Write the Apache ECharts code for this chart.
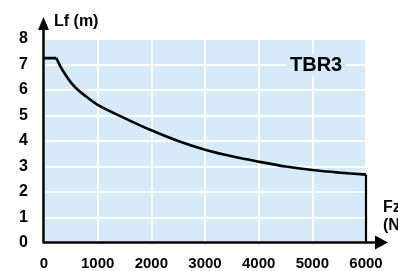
<!DOCTYPE html>
<html>
<head>
<meta charset="utf-8">
<script src="https://cdn.jsdelivr.net/npm/echarts@6/dist/echarts.min.js"></script>
<style>
html, body { margin: 0; padding: 0; background: #fff; }
#main { width: 398px; height: 271px; }
</style>
</head>
<body>
<div id="main"></div>
<script>
// force Fz (N) against max length Lf (m)
const fzValues = [0, 230, 300, 400, 500, 600, 750, 1000, 1500, 2000, 2500, 3000, 3500, 4000, 4500, 5000, 5500, 6000];
const lfValues = [7.25, 7.25, 6.95, 6.6, 6.3, 6.07, 5.8, 5.42, 4.9, 4.42, 4.0, 3.66, 3.4, 3.19, 3.0, 2.86, 2.76, 2.68];
const xTicks = [0, 1000, 2000, 3000, 4000, 5000, 6000];
const yTicks = [0, 1, 2, 3, 4, 5, 6, 7, 8];
const modelName = 'TBR3';

const font = '"Liberation Sans", Arial, sans-serif';
const pts = fzValues.map((f, i) => [f, lfValues[i]]);
const last = pts[pts.length - 1];

let myChart = echarts.init(document.getElementById('main'));
let option = {
    animation: false,
    grid: {
        left: 44, right: 32, top: 39, bottom: 27,
        show: true, backgroundColor: '#d5ebf9', borderWidth: 0
    },
    xAxis: {
        type: 'value',
        min: xTicks[0], max: xTicks[xTicks.length - 1], interval: 1000,
        axisLine: { show: false },
        axisTick: { show: false },
        axisLabel: {
            color: '#000', fontWeight: 'bold', fontSize: 15, fontFamily: font, margin: 13,
            formatter: v => String(v)
        },
        splitLine: { lineStyle: { color: '#fff', width: 2 } }
    },
    yAxis: {
        type: 'value',
        min: yTicks[0], max: yTicks[yTicks.length - 1], interval: 1,
        axisLine: { show: false },
        axisTick: { show: false },
        axisLabel: { color: '#000', fontWeight: 'bold', fontSize: 16, fontFamily: font, margin: 16 },
        splitLine: { lineStyle: { color: '#fff', width: 2 } }
    },
    series: [
        {   // flat part at the top
            type: 'line', data: pts.slice(0, 2), symbol: 'none',
            lineStyle: { color: '#000', width: 2.6 }
        },
        {
            type: 'line', data: pts.slice(1), symbol: 'none',
            smooth: 0.3,
            lineStyle: { color: '#000', width: 2.6 }
        },
        {   // drop to zero at max force
            type: 'line', data: [last, [last[0], 0]], symbol: 'none',
            lineStyle: { color: '#000', width: 2.2 }
        }
    ]
};
myChart.setOption(option);

// axes with arrows, drawn over the grid
const o = myChart.convertToPixel({ gridIndex: 0 }, [0, 0]);
const xe = myChart.convertToPixel({ gridIndex: 0 }, [6000, 0]);
const ye = myChart.convertToPixel({ gridIndex: 0 }, [0, 8]);
const ox = o[0] - 0.5, oy = o[1] - 0.5;
const xTip = xe[0] + 22, yTip = ye[1] - 22;
myChart.setOption({
    graphic: [
        { type: 'line', shape: { x1: ox, y1: oy, x2: xTip - 10, y2: oy }, style: { stroke: '#000', lineWidth: 2.5 }, z: 100 },
        { type: 'polygon', shape: { points: [[xTip, oy], [xTip - 13, oy - 7], [xTip - 13, oy + 7]] }, style: { fill: '#000' }, z: 100 },
        { type: 'line', shape: { x1: ox, y1: oy + 1, x2: ox, y2: yTip + 10 }, style: { stroke: '#000', lineWidth: 2.5 }, z: 100 },
        { type: 'polygon', shape: { points: [[ox, yTip], [ox - 5.5, yTip + 13], [ox + 5.5, yTip + 13]] }, style: { fill: '#000' }, z: 100 },
        { type: 'text', left: 54, top: 14, z: 100, style: { text: 'Lf (m)', font: 'bold 16px ' + font, fill: '#000' } },
        { type: 'text', left: 383, top: 199, z: 100, style: { text: 'Fz\n(N)', font: 'bold 16px ' + font, fill: '#000', lineHeight: 18 } },
        { type: 'text', left: 286, top: 54, z: 100, style: { text: modelName, font: 'bold 20px ' + font, fill: '#000', backgroundColor: '#d5ebf9', padding: [1, 4] } }
    ]
});
</script>
</body>
</html>
